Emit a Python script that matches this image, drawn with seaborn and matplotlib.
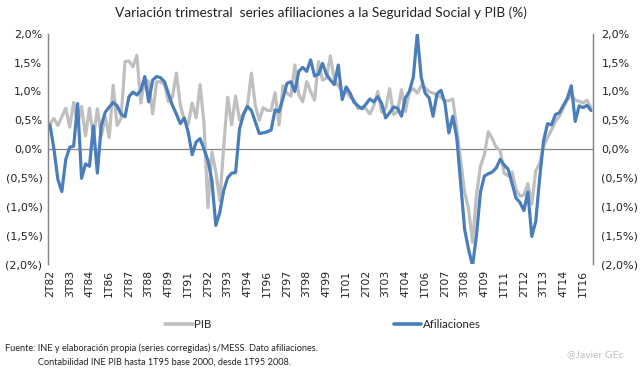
import matplotlib
matplotlib.use('Agg')
import matplotlib.pyplot as plt
from matplotlib.lines import Line2D
import pandas as pd
import seaborn as sns


TITLE = 'Variación trimestral  series afiliaciones a la Seguridad Social y PIB (%)'
FOOTNOTE_1 = 'Fuente: INE y elaboración propia (series corregidas) s/MESS. Dato afiliaciones.'
FOOTNOTE_2 = 'Contabilidad INE PIB hasta 1T95 base 2000, desde 1T95 2008.'
SIGNATURE = '@Javier GEc'

# first quarter of the series: 2T82
FIRST_YEAR = 1982
FIRST_Q = 2

# quarterly growth (%), PIB
pib = [
    0.44, 0.53, 0.41, 0.56, 0.71, 0.38, 0.81, 0.42, 0.74, 0.23, 0.71, 0.20, 0.70, 0.23, 0.56, 0.20, 1.11, 0.41, 0.53,
    1.52, 1.53, 1.43, 1.63, 0.80, 1.22, 1.17, 0.61, 1.17, 1.17, 1.12, 0.82, 0.90, 1.32, 0.77, 0.50, 0.43, 0.80, 0.54, 1.12,
    0.45, -1.02, -0.05, -0.40, -0.90, 0.05, 0.90, 0.42, 0.92, 0.50, 0.62, 0.75, 1.32, 0.75, 0.50, 0.72, 0.67, 0.67, 0.98, 0.42,
    1.10, 0.97, 0.92, 1.46, 0.95, 0.82, 1.17, 1.00, 0.85, 1.52, 1.20, 1.23, 1.62, 1.20, 1.10, 1.00, 1.00, 0.90, 0.85, 0.70,
    0.73, 0.70, 0.61, 0.75, 1.00, 0.64, 0.70, 1.05, 0.60, 0.65, 1.03, 0.65, 1.00, 1.05, 0.97, 1.10, 1.06, 1.00, 0.97, 0.94,
    0.90, 0.84, 0.84, 0.87, 0.35, -0.20, -0.75, -1.05, -1.62, -0.80, -0.30, -0.10, 0.30, 0.18, 0.03, -0.03, -0.42, -0.47, -0.40, -0.70,
    -0.82, -0.80, -0.60, -0.96, -0.38, -0.25, 0.05, 0.20, 0.33, 0.48, 0.57, 0.72, 0.85, 0.95, 0.85, 0.83, 0.80, 0.85, 0.72,
]

# quarterly growth (%), afiliaciones a la Seguridad Social
afiliaciones = [
    0.42, 0.00, -0.53, -0.74, -0.18, 0.03, 0.05, 0.79, -0.51, -0.26, -0.30, 0.40, -0.42, 0.41, 0.64, 0.73, 0.81, 0.75, 0.61,
    0.56, 0.91, 0.99, 0.94, 1.02, 1.26, 0.82, 1.20, 1.26, 1.24, 1.17, 0.96, 0.76, 0.61, 0.44, 0.54, 0.29, -0.10, 0.12, 0.18,
    0.00, -0.20, -0.55, -1.33, -1.10, -0.72, -0.50, -0.42, -0.41, 0.35, 0.60, 0.74, 0.67, 0.47, 0.27, 0.28, 0.30, 0.33, 0.68, 0.65,
    0.88, 1.14, 1.17, 1.00, 1.35, 1.42, 1.35, 1.55, 1.27, 1.30, 1.49, 1.30, 1.20, 1.12, 1.46, 0.86, 1.08, 0.97, 0.81, 0.75,
    0.70, 0.78, 0.87, 0.82, 0.91, 0.79, 0.54, 0.63, 0.73, 0.71, 0.57, 0.89, 1.00, 1.25, 2.00, 1.25, 0.97, 0.89, 0.57, 0.96,
    1.02, 0.80, 0.28, 0.57, 0.20, -0.60, -1.40, -1.75, -2.03, -1.50, -0.75, -0.47, -0.43, -0.40, -0.33, -0.18, -0.28, -0.35, -0.60, -0.85,
    -0.93, -1.07, -0.75, -1.52, -1.26, -0.50, 0.15, 0.44, 0.42, 0.60, 0.63, 0.76, 0.88, 1.10, 0.48, 0.75, 0.72, 0.76, 0.67,
]

Y_TICKS = [-2.0, -1.5, -1.0, -0.5, 0.0, 0.5, 1.0, 1.5, 2.0]

GRAY = '#BFBFBF'
BLUE = '#4A7EBB'
AXIS = '#868686'


def quarter_labels(n):
    labels = []
    year, q = FIRST_YEAR, FIRST_Q
    for _ in range(n):
        labels.append(f'{q}T{year % 100:02d}')
        q += 1
        if q > 4:
            q = 1
            year += 1
    return labels


def pct_label(v):
    s = f'{abs(v):.1f}%'.replace('.', ',')
    return f'({s})' if v < 0 else s


def main():
    sns.set_style('white')
    plt.rcParams['font.family'] = ['DejaVu Sans']

    quarters = quarter_labels(len(pib))
    df = pd.DataFrame({
        'idx': list(range(len(pib))) * 2,
        'valor': pib + afiliaciones,
        'serie': ['PIB'] * len(pib) + ['Afiliaciones'] * len(afiliaciones),
    })

    fig = plt.figure(figsize=(6.41, 3.69), dpi=100)
    ax = fig.add_axes([48 / 641, 1 - 264 / 369, 545 / 641, 230 / 369])

    sns.lineplot(data=df, x='idx', y='valor', hue='serie', hue_order=['PIB', 'Afiliaciones'],
                 palette={'PIB': GRAY, 'Afiliaciones': BLUE}, linewidth=2.3,
                 legend=False, ax=ax)

    ax.axhline(0, color=AXIS, lw=0.9, zorder=0)
    ax.set_xlim(-0.5, len(pib) - 0.5)
    ax.set_ylim(-2.0, 2.0)
    ax.set_xlabel('')
    ax.set_ylabel('')

    tick_pos = list(range(0, len(pib), 5))
    ax.set_xticks(tick_pos)
    ax.set_xticklabels([quarters[i] for i in tick_pos], rotation=90, fontsize=7.8, color='#222222')
    ax.set_yticks(Y_TICKS)
    ax.set_yticklabels([pct_label(v) for v in Y_TICKS], fontsize=8, color='#222222')
    ax.tick_params(axis='both', length=0, pad=4)

    ax2 = ax.twinx()
    ax2.set_ylim(-2.0, 2.0)
    ax2.set_yticks(Y_TICKS)
    ax2.set_yticklabels([pct_label(v) for v in Y_TICKS], fontsize=8, color='#222222')
    ax2.tick_params(axis='y', length=0, pad=6)

    for a in (ax, ax2):
        a.spines['top'].set_visible(False)
        a.spines['bottom'].set_visible(False)
        a.spines['left'].set_color(AXIS)
        a.spines['right'].set_color(AXIS)
        a.spines['left'].set_linewidth(0.9)
        a.spines['right'].set_linewidth(0.9)

    fig.text(0.5, 1 - 13 / 369, TITLE, ha='center', va='center', fontsize=9.8,
             family=['Lato', 'DejaVu Sans'], color='#222222')

    handles = [Line2D([], [], color=GRAY, lw=2.6), Line2D([], [], color=BLUE, lw=2.6)]
    fig.legend(handles, ['PIB', 'Afiliaciones'], loc='center', bbox_to_anchor=(323 / 641, 1 - 325 / 369),
               ncol=2, frameon=False, handlelength=2.4, handletextpad=0.1, columnspacing=15.8,
               prop={'family': 'Lato', 'size': 8.3})

    fig.text(5 / 641, 1 - 348 / 369, FOOTNOTE_1, ha='left', va='center', fontsize=6.6,
             family=['Lato', 'DejaVu Sans'], color='#222222')
    fig.text(38 / 641, 1 - 362 / 369, FOOTNOTE_2, ha='left', va='center', fontsize=6.6,
             family=['Lato', 'DejaVu Sans'], color='#222222')
    fig.text(567 / 641, 1 - 355 / 369, SIGNATURE, ha='left', va='center', fontsize=7.5,
             family=['Lato', 'DejaVu Sans'], color=GRAY)

    fig.savefig('out.png', dpi=100)
    plt.close(fig)


if __name__ == '__main__':
    main()
